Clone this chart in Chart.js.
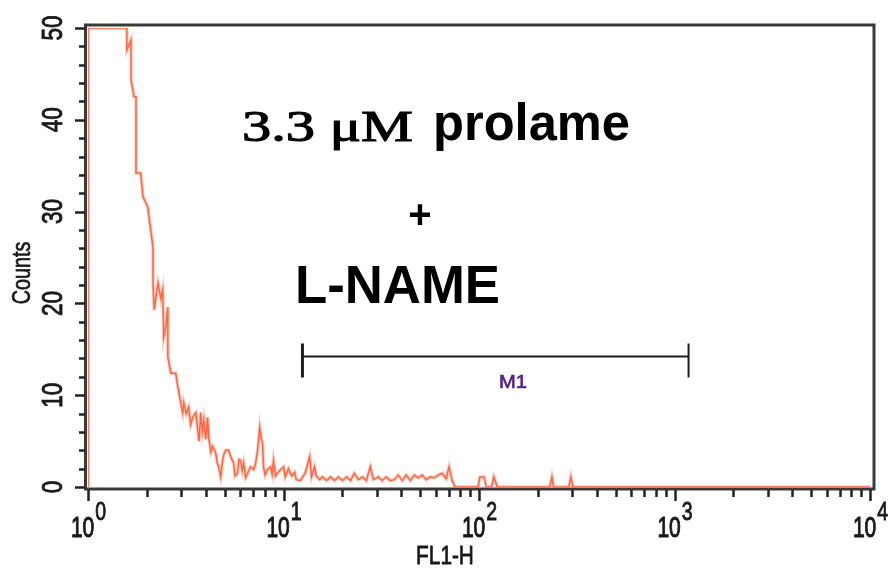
<!DOCTYPE html>
<html>
<head>
<meta charset="utf-8">
<script src="https://cdn.jsdelivr.net/npm/chart.js@4.4.0/dist/chart.umd.min.js"></script>
<style>
  body { margin: 0; background: #fff; }
  canvas { display: block; }
</style>
</head>
<body>
<canvas id="hist" width="896" height="571"></canvas>
<script>
// FL1-H channel values (log axis) and counts
const fl1 = [1, 1, 1.58, 1.58, 1.66, 1.66, 1.72, 1.76, 1.76, 1.86, 1.91, 2.02, 2.05, 2.15, 2.15, 2.18,
  2.28, 2.36, 2.41, 2.44, 2.50, 2.56, 2.56, 2.65, 2.81, 2.88, 2.96, 3.05, 3.09, 3.18, 3.27, 3.35,
  3.43, 3.56, 3.64, 3.70, 3.77, 3.84, 3.91, 4.00, 4.09, 4.14, 4.25, 4.34, 4.50, 4.58, 4.66, 4.77,
  4.88, 4.96, 5.06, 5.24, 5.37, 5.56, 5.65, 5.82, 5.92, 6.04, 6.15, 6.25, 6.40, 6.55, 6.79, 7.03,
  7.20, 7.37, 7.55, 7.70, 7.81, 7.90, 8.05, 8.28, 8.58, 8.75, 8.89, 9.10, 9.31, 9.66, 10.0, 10.2,
  10.6, 11.0, 11.4, 11.6, 12.2, 12.9, 13.6, 13.9, 14.4, 14.7, 15.3, 15.8, 16.6, 17.4, 18.2, 19.1,
  20.0, 21.0, 22.0, 23.0, 24.1, 25.3, 26.5, 27.8, 28.8, 30.5, 32.0, 33.5, 35.2, 36.8, 38.6, 40.5,
  42.4, 44.5, 46.6, 48.8, 51.2, 53.7, 56.2, 58.9, 61.8, 64.7, 67.9, 70.3, 72.8, 75.4, 98.9, 101,
  106, 109, 116, 119, 124, 230, 236, 241, 288, 295, 302, 10000];
const counts = [0, 50, 50, 47.6, 48.7, 44.3, 42.5, 42.5, 34.2, 34.2, 31.6, 30.5, 29.4, 26.1, 22.2, 19.3,
  22.2, 20.5, 21.5, 16.3, 17.5, 19.6, 14.2, 12.4, 12.4, 10.9, 9.5, 8.1, 9.2, 8.0, 8.7, 6.8,
  7.6, 8.1, 6.2, 5.0, 8.1, 6.0, 7.3, 5.2, 7.6, 5.4, 3.8, 4.4, 3.7, 2.6, 2.2, 1.1,
  2.9, 3.6, 4.0, 4.0, 3.3, 2.6, 1.2, 1.5, 3.0, 2.9, 1.8, 2.6, 1.0, 1.5, 2.2, 1.9,
  2.6, 4.0, 6.5, 5.2, 4.8, 2.2, 1.3, 1.9, 2.2, 1.4, 2.9, 1.2, 1.5, 1.9, 2.2, 1.1,
  2.0, 1.2, 1.6, 0.8, 0.7, 1.5, 3.3, 1.1, 2.2, 1.2, 0.8, 1.1, 0.7, 1.1, 0.7, 1.1,
  0.7, 1.1, 0.7, 1.5, 0.8, 1.1, 0.7, 2.2, 0.8, 1.1, 0.7, 1.1, 0.7, 0.8, 1.3, 0.7,
  1.3, 0.7, 1.3, 1.0, 1.3, 0.8, 1.1, 1.0, 1.3, 1.5, 0.9, 2.2, 0.7, 0, 0, 1.1,
  1.1, 0, 0, 1.1, 0, 0, 1.1, 0, 0, 1.1, 0, 0];

const decades = [0, 1, 2, 3, 4];
const yLabels = [0, 10, 20, 30, 40, 50];
// marker gate M1
const m1Range = [12.5, 1180];
const m1Count = 14.3;

const SANS = '"Liberation Sans", Arial, sans-serif';
const SERIF = '"Liberation Serif", "Times New Roman", serif';

// condensed text, with a thin stroke to give it some weight
function txt(ctx, s, x, y, font, sx, align, rot, heavy) {
  ctx.save();
  ctx.translate(x, y);
  if (rot) ctx.rotate(rot);
  ctx.font = font;
  ctx.scale(sx, 1);
  ctx.textAlign = align;
  ctx.fillText(s, 0, 0);
  if (heavy) {
    ctx.lineWidth = heavy;
    ctx.strokeStyle = ctx.fillStyle;
    ctx.strokeText(s, 0, 0);
  }
  ctx.restore();
}

// stretch text so it covers a given width
function fitText(ctx, s, left, base, font, width, heavy) {
  ctx.save();
  ctx.font = font;
  const w = ctx.measureText(s).width;
  ctx.translate(left, base);
  ctx.scale(width / w, 1);
  ctx.textAlign = 'left';
  ctx.fillText(s, 0, 0);
  if (heavy) {
    ctx.lineWidth = heavy;
    ctx.strokeStyle = ctx.fillStyle;
    ctx.strokeText(s, 0, 0);
  }
  ctx.restore();
}

const facsPlugin = {
  id: 'facs',
  afterDatasetsDraw(chart) {
    const ctx = chart.ctx;
    const a = chart.chartArea;
    const xs = chart.scales.x, ys = chart.scales.y;

    // frame
    ctx.save();
    ctx.strokeStyle = '#3a3a3a';
    ctx.lineWidth = 3;
    ctx.beginPath();
    ctx.moveTo(a.left - 2.5, a.top - 3);
    ctx.lineTo(a.right + 4, a.top - 3);
    ctx.lineTo(a.right + 4, a.bottom + 2);
    ctx.lineTo(a.left - 2.5, a.bottom + 2);
    ctx.closePath();
    ctx.stroke();

    // y ticks
    ctx.strokeStyle = '#222';
    ctx.lineWidth = 2.5;
    for (let v = 0; v <= 50; v += 2) {
      const py = Math.round(ys.getPixelForValue(v)) + 0.5;
      const len = v % 10 === 0 ? 10 : 6;
      ctx.beginPath();
      ctx.moveTo(a.left - 3, py);
      ctx.lineTo(a.left - 3 - len, py);
      ctx.stroke();
    }
    // x ticks
    for (let d = 0; d < 4; d++) {
      for (let m = 1; m <= 9; m++) {
        const px = Math.round(xs.getPixelForValue(m * Math.pow(10, d))) + 0.5;
        const len = m === 1 ? 11 : 7;
        ctx.beginPath();
        ctx.moveTo(px, a.bottom + 3);
        ctx.lineTo(px, a.bottom + 3 + len);
        ctx.stroke();
      }
    }
    const pEnd = Math.round(xs.getPixelForValue(10000)) + 0.5;
    ctx.beginPath();
    ctx.moveTo(pEnd, a.bottom + 3);
    ctx.lineTo(pEnd, a.bottom + 14);
    ctx.stroke();

    // tick labels
    ctx.fillStyle = '#1a1a1a';
    ctx.textBaseline = 'alphabetic';
    yLabels.forEach(v => {
      const py = ys.getPixelForValue(v);
      txt(ctx, String(v), 62, py, '30px ' + SANS, 0.75, 'center', -Math.PI / 2, 0.9);
    });
    txt(ctx, 'Counts', 30, 273, '26px ' + SANS, 0.76, 'center', -Math.PI / 2, 0.7);

    decades.forEach(k => {
      const px = xs.getPixelForValue(Math.pow(10, k));
      ctx.font = '30px ' + SANS;
      const w1 = ctx.measureText('10').width * 0.7;
      ctx.font = '26px ' + SANS;
      const w2 = ctx.measureText(String(k)).width * 0.75;
      const left = px - (w1 + w2) / 2;
      txt(ctx, '10', left, 537, '30px ' + SANS, 0.7, 'left', 0, 1.1);
      txt(ctx, String(k), left + w1 + 1, 520, '26px ' + SANS, 0.75, 'left', 0, 0.9);
    });
    txt(ctx, 'FL1-H', 445, 564, '26px ' + SANS, 0.8, 'center', 0, 0.8);

    // M1 gate
    const g1 = xs.getPixelForValue(m1Range[0]);
    const g2 = xs.getPixelForValue(m1Range[1]);
    const gy = Math.round(ys.getPixelForValue(m1Count)) + 0.5;
    ctx.strokeStyle = '#1e1e1e';
    ctx.lineWidth = 2;
    ctx.beginPath();
    ctx.moveTo(g1, gy);
    ctx.lineTo(g2, gy);
    ctx.stroke();
    ctx.lineWidth = 3;
    ctx.beginPath();
    ctx.moveTo(g1, gy - 13);
    ctx.lineTo(g1, gy + 21);
    ctx.stroke();
    ctx.lineWidth = 2;
    ctx.beginPath();
    ctx.moveTo(g2, gy - 13);
    ctx.lineTo(g2, gy + 21);
    ctx.stroke();
    ctx.fillStyle = '#55208f';
    fitText(ctx, 'M1', 499, 388, '18px ' + SANS, 28, 0.6);

    // annotation
    ctx.fillStyle = '#000';
    fitText(ctx, '3.3 \u03bcM', 242, 141, '45px ' + SERIF, 171, 1.1);
    fitText(ctx, 'prolame', 433, 140, 'bold 52px ' + SANS, 197);
    txt(ctx, '+', 420, 228, 'bold 40px ' + SANS, 1, 'center');
    fitText(ctx, 'L-NAME', 295, 303, 'bold 54px ' + SANS, 205);
    ctx.restore();
  }
};

const points = fl1.map((x, i) => ({ x, y: counts[i] }));

new Chart(document.getElementById('hist'), {
  type: 'scatter',
  data: {
    datasets: [
      { data: points, showLine: true, pointRadius: 0, borderWidth: 3.4,
        borderColor: 'rgba(255,140,110,0.45)', tension: 0 },
      { data: points, showLine: true, pointRadius: 0, borderWidth: 1.5,
        borderColor: '#ff4a1e', tension: 0 }
    ]
  },
  options: {
    responsive: false,
    animation: false,
    layout: { padding: { left: 0, top: 28, right: 26, bottom: 84 } },
    plugins: { legend: { display: false }, tooltip: { enabled: false } },
    scales: {
      x: {
        type: 'logarithmic', min: 1, max: 10000,
        ticks: { display: false },
        grid: { display: false },
        border: { display: false },
        afterFit(s) { s.height = 0; }
      },
      y: {
        min: 0, max: 50,
        ticks: { display: false, stepSize: 10 },
        grid: { display: false },
        border: { display: false },
        afterFit(s) { s.width = 88; }
      }
    }
  },
  plugins: [facsPlugin]
});
</script>
</body>
</html>
